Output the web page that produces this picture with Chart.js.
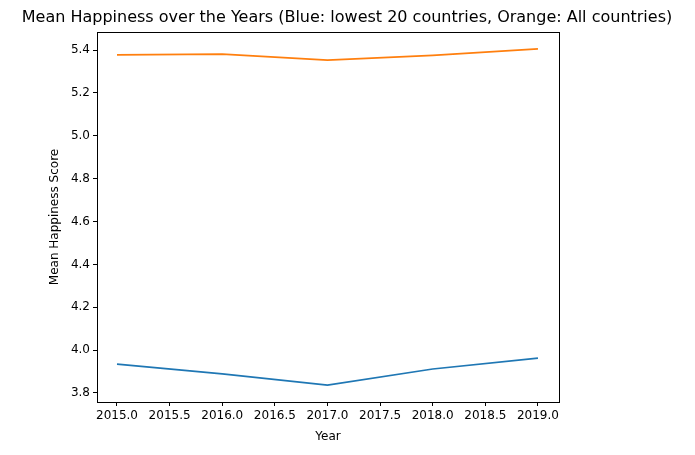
<!DOCTYPE html>
<html><head><script src="https://cdn.jsdelivr.net/npm/chart.js@4"></script>
<style>body{margin:0;background:#fff}#w{width:695px;height:455px}</style></head>
<body><div id="w"><canvas id="c"></canvas></div>
<script>
const years=[2015,2016,2017,2018,2019];
const lowest20=[3.935,3.889,3.837,3.912,3.963];
const allCountries=[5.377,5.381,5.353,5.375,5.405];
const titleText='Mean Happiness over the Years (Blue: lowest 20 countries, Orange: All countries)';
const FAM="'DejaVu Sans', sans-serif";
const font={family:FAM,size:12};
const deco={id:'deco',afterDraw(c){const ctx=c.ctx,a=c.chartArea;ctx.save();
ctx.strokeStyle='#000';ctx.lineWidth=1;ctx.strokeRect(Math.round(a.left)+0.5,Math.round(a.top)+0.5,Math.round(a.right-a.left),Math.round(a.bottom-a.top));
ctx.fillStyle='#000';ctx.textAlign='center';ctx.textBaseline='middle';
ctx.font="16px "+FAM;ctx.fillText(titleText,347,18);
ctx.font="12px "+FAM;ctx.fillText('Year',(a.left+a.right)/2,437);
ctx.translate(55,(a.top+a.bottom)/2);ctx.rotate(-Math.PI/2);ctx.fillText('Mean Happiness Score',0,0);
ctx.restore();}};
new Chart(document.getElementById('c'),{type:'line',
data:{datasets:[
{data:years.map((x,i)=>({x,y:lowest20[i]})),borderColor:'#1f77b4',borderWidth:1.7,pointRadius:0,tension:0},
{data:years.map((x,i)=>({x,y:allCountries[i]})),borderColor:'#ff7f0e',borderWidth:1.7,pointRadius:0,tension:0}]},
options:{responsive:true,maintainAspectRatio:false,animation:false,
layout:{padding:{left:0,right:136,top:32,bottom:0}},
plugins:{legend:{display:false},tooltip:{enabled:false},title:{display:false}},
scales:{
x:{type:'linear',min:2014.81,max:2019.2,afterFit:s=>{s.height=53},
ticks:{stepSize:0.5,includeBounds:false,color:'#000',font,maxRotation:0,autoSkip:false,callback:v=>Number(v).toFixed(1)},
grid:{drawOnChartArea:false,color:'#000',tickLength:4},border:{color:'#000'}},
y:{min:3.758,max:5.484,afterFit:s=>{s.width=97},
ticks:{stepSize:0.2,includeBounds:false,color:'#000',font,callback:v=>Number(v).toFixed(1)},
grid:{drawOnChartArea:false,color:'#000',tickLength:4},border:{color:'#000'}}}},
plugins:[deco]});
</script></body></html>
